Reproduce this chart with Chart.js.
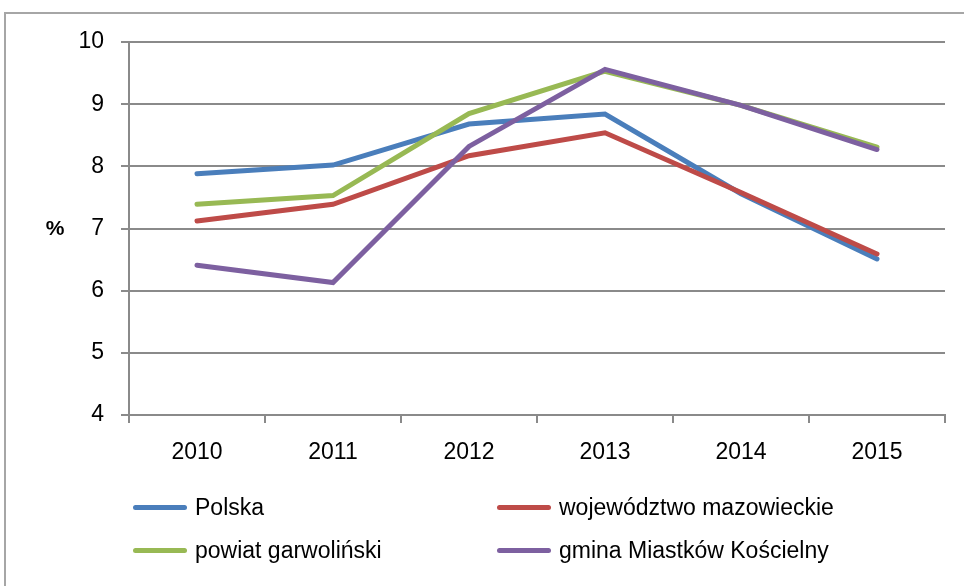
<!DOCTYPE html>
<html>
<head>
<meta charset="utf-8">
<script src="https://cdn.jsdelivr.net/npm/chart.js@4.4.0/dist/chart.umd.min.js"></script>
<style>
  body { margin: 0; background: #fff; }
  #wrap { position: relative; width: 964px; height: 586px; overflow: hidden; background: #fff; }
  #frame { position: absolute; left: 4px; top: 12px; width: 1000px; height: 620px;
    border-left: 2px solid #a6a6a6; border-top: 2px solid #a6a6a6; }
  #chart { position: absolute; left: 0; top: 0; }
  #legend { position: absolute; left: 0; top: 0; font-family: "Liberation Sans", Arial, sans-serif;
    font-size: 23px; color: #000; }
  .item { position: absolute; display: flex; align-items: center; height: 30px; white-space: nowrap; }
  .swatch { width: 54px; height: 5px; border-radius: 3px; margin-right: 8px; }
</style>
</head>
<body>
<div id="wrap">
  <div id="frame"></div>
  <canvas id="chart" width="964" height="586"></canvas>
  <div id="legend"></div>
</div>
<script>
var years = ['2010', '2011', '2012', '2013', '2014', '2015'];
var polska = [7.88, 8.02, 8.68, 8.84, 7.56, 6.51];
var mazowieckie = [7.12, 7.39, 8.17, 8.54, 7.58, 6.59];
var garwolinski = [7.39, 7.53, 8.85, 9.53, 8.98, 8.31];
var miastkow = [6.41, 6.13, 8.32, 9.56, 8.98, 8.27];

var names = ['Polska', 'województwo mazowieckie', 'powiat garwoliński', 'gmina Miastków Kościelny'];
var colors = ['#4a7ebb', '#be4b48', '#98b954', '#7d60a0'];
var series = [polska, mazowieckie, garwolinski, miastkow];
var yUnit = '%';

var gridColor = '#8a8a8a';
var font = '"Liberation Sans", Arial, sans-serif';

// "%" sits horizontally left of the axis, not rotated like a normal title
var percentLabel = {
  id: 'percentLabel',
  afterDraw: function(chart) {
    var ctx = chart.ctx, a = chart.chartArea;
    ctx.save();
    ctx.font = 'bold 21px ' + font;
    ctx.fillStyle = '#000';
    ctx.textAlign = 'center';
    ctx.textBaseline = 'middle';
    ctx.fillText(yUnit, 55, (a.top + a.bottom) / 2 + 1);
    ctx.restore();
  }
};

var datasets = series.map(function(vals, i) {
  return {
    label: names[i],
    data: vals,
    borderColor: colors[i],
    backgroundColor: colors[i],
    borderWidth: 5,
    pointRadius: 0,
    tension: 0,
    fill: false,
    borderCapStyle: 'round',
    order: series.length - i  // later series drawn on top
  };
});

var chart = new Chart(document.getElementById('chart'), {
  type: 'line',
  data: { labels: years, datasets: datasets },
  plugins: [percentLabel],
  options: {
    responsive: false,
    animation: false,
    layout: { padding: { top: 42, right: 19, left: 0, bottom: 0 } },
    plugins: { legend: { display: false }, tooltip: { enabled: false } },
    scales: {
      x: {
        offset: true,
        afterFit: function(scale) { scale.height = 171; },
        grid: { drawOnChartArea: false, color: gridColor, lineWidth: 2, tickLength: 8, offset: true },
        border: { color: gridColor, width: 2 },
        ticks: { color: '#000', font: { family: font, size: 23 }, padding: 16, maxRotation: 0 }
      },
      y: {
        min: 4,
        max: 10,
        afterFit: function(scale) { scale.width = 129; },
        ticks: { stepSize: 1, color: '#000', font: { family: font, size: 23 }, padding: 17 },
        grid: { color: gridColor, lineWidth: 2, tickLength: 8 },
        border: { color: gridColor, width: 2 }
      }
    }
  }
});

// two-column legend under the plot
var legendPos = [[133, 492], [497, 492], [133, 535], [497, 535]];
var legend = document.getElementById('legend');
names.forEach(function(name, i) {
  var el = document.createElement('div');
  el.className = 'item';
  el.style.left = legendPos[i][0] + 'px';
  el.style.top = legendPos[i][1] + 'px';
  el.innerHTML = '<span class="swatch" style="background:' + colors[i] + '"></span><span>' + name + '</span>';
  legend.appendChild(el);
});
</script>
</body>
</html>
